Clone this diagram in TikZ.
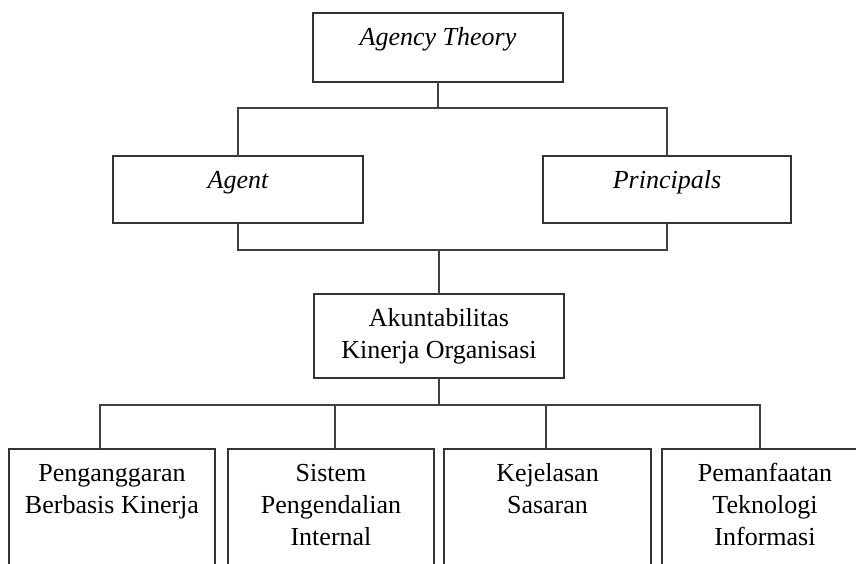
\documentclass[tikz,border=0pt]{standalone}
\usepackage{fontspec}
\setmainfont{Liberation Serif}
\usetikzlibrary{calc}
\tikzset{
  box/.style={draw=black!80, line width=1.6pt, inner sep=0pt, outer sep=0pt},
  conn/.style={draw=black!75, line width=1.6pt},
}
\newcommand{\boxtext}[3]{\parbox[t][#2][t]{#1}{\centering\rule{0pt}{32.5pt}#3}}
\begin{document}
\begin{tikzpicture}[x=1pt,y=-1pt,every node/.style={font=\fontsize{26}{32}\selectfont}]
\clip (0,0) rectangle (856,564);
\fill[white] (0,0) rectangle (856,564);
% boxes
\node[box] (top) at (438,47.5) {\boxtext{250pt}{69pt}{\itshape Agency Theory}};
\node[box] (agent) at (238,189.5) {\boxtext{250pt}{67pt}{\itshape Agent}};
\node[box] (principals) at (667,189.5) {\boxtext{248pt}{67pt}{\itshape Principals}};
\node[box] (akun) at (439,336) {\boxtext{250pt}{84pt}{Akuntabilitas\\Kinerja Organisasi}};
\node[box] (b1) at (112,514) {\boxtext{206pt}{130pt}{Penganggaran\\Berbasis Kinerja}};
\node[box] (b2) at (331,514) {\boxtext{206pt}{130pt}{Sistem\\Pengendalian\\Internal}};
\node[box] (b3) at (547.5,514) {\boxtext{207pt}{130pt}{Kejelasan\\Sasaran}};
\node[box] (b4) at (765,514) {\boxtext{206pt}{130pt}{Pemanfaatan\\Teknologi\\Informasi}};
% connectors
\coordinate (j1) at (438,108);
\draw[conn] (top.south) -- (j1);
\draw[conn] (agent.north) -- (agent.north |- j1) -- (principals.north |- j1) -- (principals.north);
\coordinate (j2) at (439,250);
\draw[conn] (agent.south) -- (agent.south |- j2) -- (principals.south |- j2) -- (principals.south);
\draw[conn] (j2) -- (akun.north);
\coordinate (j3) at (439,405);
\draw[conn] (akun.south) -- (j3);
\coordinate (d1) at ($(b1.north)+(-12,0)$);
\coordinate (d2) at ($(b2.north)+(4,0)$);
\coordinate (d3) at ($(b3.north)+(-1.5,0)$);
\coordinate (d4) at ($(b4.north)+(-5,0)$);
\draw[conn] (d1) -- (d1 |- j3) -- (d4 |- j3) -- (d4);
\draw[conn] (d2) -- (d2 |- j3);
\draw[conn] (d3) -- (d3 |- j3);
\end{tikzpicture}
\end{document}
